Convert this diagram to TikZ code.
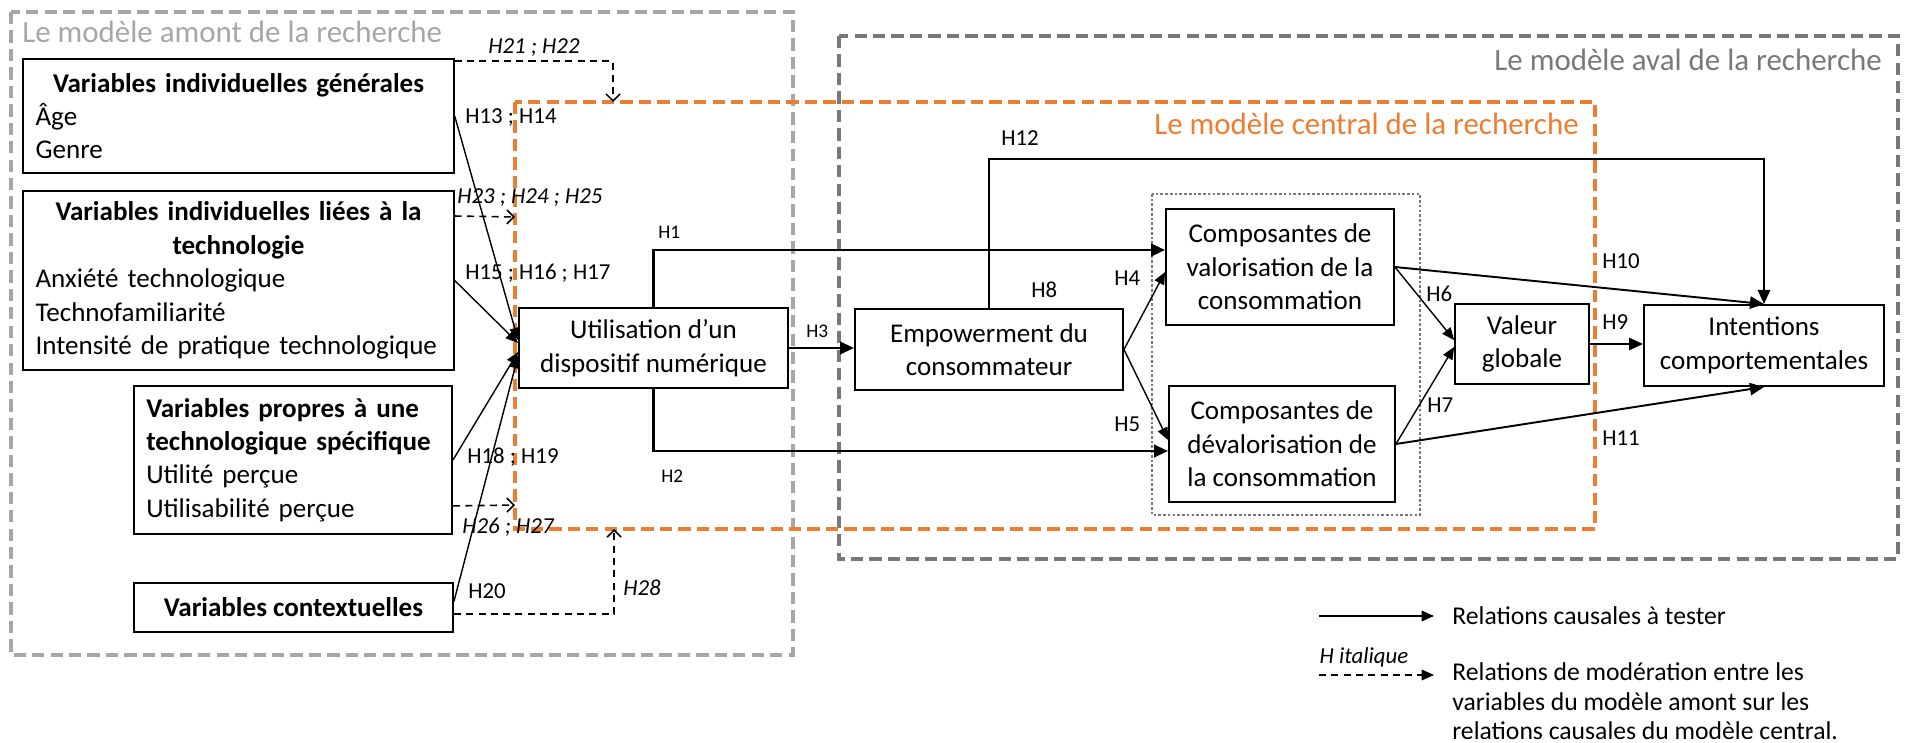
\documentclass[tikz,border=0pt]{standalone}
\usepackage{fontspec}
\setmainfont{Carlito}
\usetikzlibrary{arrows.meta,calc}
\definecolor{amontgray}{RGB}{166,166,166}
\definecolor{avalgray}{RGB}{120,120,120}
\definecolor{centralorange}{RGB}{237,125,49}
\newcommand{\boxfont}{\fontsize{15.4pt}{19pt}\selectfont}
\newcommand{\hypfont}{\fontsize{13pt}{15pt}\selectfont}
\newcommand{\smallhypfont}{\fontsize{11pt}{13pt}\selectfont}
\newcommand{\framefont}{\fontsize{17.6pt}{20pt}\selectfont}
\newcommand{\legendfont}{\fontsize{14.6pt}{17pt}\selectfont}
\tikzset{
	varbox/.style={draw, line width=1.1pt, font=\boxfont, inner xsep=7pt, inner ysep=2pt},
	hyp/.style={font=\hypfont, inner sep=0pt, anchor=west},
	hypit/.style={font=\hypfont\itshape, inner sep=0pt, anchor=west},
	smallhyp/.style={font=\smallhypfont, inner sep=0pt, anchor=west},
	causal/.style={line width=0.8pt, -{Triangle[length=7pt,width=6pt]}},
	midcausal/.style={line width=1.1pt, -{Triangle[length=8pt,width=7pt]}},
	thickcausal/.style={line width=1.7pt, -{Triangle[length=8pt,width=7pt]}},
	moder/.style={line width=0.9pt, dash pattern=on 4pt off 3pt, -{Straight Barb[length=4pt,width=8pt]}},
	framebox/.style={line width=2pt, dash pattern=on 7pt off 3.5pt},
	legendtext/.style={font=\legendfont, inner sep=0pt},
}
\begin{document}
\begin{tikzpicture}[x=0.02cm, y=-0.02cm]
	\useasboundingbox (0,0) rectangle (1905,743);
	\coordinate (amontNW) at (11,12);
	\coordinate (amontSE) at (793,655);
	\coordinate (avalNW) at (839,36);
	\coordinate (avalSE) at (1898,559);
	\coordinate (centralNW) at (515,102);
	\coordinate (centralSE) at (1595,529);
	\coordinate (clusterNW) at (1152,194);
	\coordinate (clusterSE) at (1420,515);
	\draw[framebox, amontgray] (amontNW) rectangle (amontSE);
	\draw[framebox, avalgray] (avalNW) rectangle (avalSE);
	\draw[framebox, centralorange, line width=2.3pt] (centralNW) rectangle (centralSE);
	\draw[avalgray, line width=0.6pt, dash pattern=on 1.5pt off 1.2pt] (clusterNW) rectangle (clusterSE);
	\node[font=\framefont, text=amontgray, anchor=west, inner sep=0pt] (amonttitle) at (22,32) {Le modèle amont de la recherche};
	\node[font=\framefont, text=avalgray, anchor=east, inner sep=0pt] (avaltitle) at (1882,60) {Le modèle aval de la recherche};
	\node[font=\framefont, text=centralorange, anchor=east, inner sep=0pt] (centraltitle) at (1579,124) {Le modèle central de la recherche};

	\node[varbox, text width=231pt, minimum height=64.9pt, align=left] (indgen) at (238.5,116)
		{{\centering\bfseries Variables individuelles générales\par}Âge\\Genre};
	\node[varbox, text width=231pt, minimum height=101.9pt, align=left] (indtech) at (238.5,280.5)
		{{\centering\bfseries Variables individuelles liées à la\\technologie\par}Anxiété technologique\\Technofamiliarité\\Intensité de pratique technologique};
	\node[varbox, text width=167pt, minimum height=84.2pt, align=left] (techspec) at (293,460)
		{\textbf{Variables propres à une\\technologique spécifique}\\Utilité perçue\\Utilisabilité perçue};
	\node[varbox, minimum width=181.5pt, minimum height=27.9pt, font=\boxfont\bfseries] (context) at (293.5,607.5) {Variables contextuelles};
	\node[varbox, minimum width=153.1pt, minimum height=45.5pt, align=center] (util) at (653.5,348) {Utilisation d’un\\dispositif numérique};
	\node[varbox, minimum width=152.5pt, minimum height=46.1pt, align=center] (emp) at (989,349.5) {Empowerment du\\consommateur};
	\node[varbox, minimum width=129.7pt, minimum height=66pt, align=center] (val) at (1280,267) {Composantes de\\valorisation de la\\consommation};
	\node[varbox, minimum width=128.6pt, minimum height=66pt, align=center] (deval) at (1282,444) {Composantes de\\dévalorisation de\\la consommation};
	\node[varbox, minimum width=76.2pt, minimum height=45.5pt, align=center] (vg) at (1522,344) {Valeur\\globale};
	\node[varbox, minimum width=136.6pt, minimum height=46.1pt, align=center] (int) at (1764,345.5) {Intentions\\comportementales};

	\draw[causal] (indgen.east) -- ($(util.west)+(0,-8)$);
	\draw[causal] (indtech.east) -- ($(util.west)+(0,-5)$);
	\draw[causal] (techspec.east) -- ($(util.west)+(0,4)$);
	\draw[causal] ($(context.east)+(0,-6)$) -- ($(util.west)+(0,8)$);
	\node[hyp] (lH13) at (465,118) {H13 ; H14};
	\node[hyp] (lH15) at (465,273) {H15 ; H16 ; H17};
	\node[hyp] (lH18) at (467,457) {H18 ; H19};
	\node[hyp] (lH20) at (468,591) {H20};

	\coordinate (m21) at (613,102);
	\coordinate (m23) at (515,217);
	\coordinate (m26) at (515,505);
	\coordinate (m28) at (614,529);
	\draw[moder] ($(indgen.north east)+(0,3)$) -| (m21);
	\draw[moder] ($(indtech.north east)+(0,26)$) -- (m23);
	\draw[moder] ($(techspec.south east)+(0,-29)$) -- (m26);
	\draw[moder] ($(context.east)+(0,6.5)$) -| (m28);
	\node[hypit] (lH21) at (488,48) {H21 ; H22};
	\node[hypit] (lH23) at (457,198) {H23 ; H24 ; H25};
	\node[hypit] (lH26) at (462,527) {H26 ; H27};
	\node[hypit] (lH28) at (623,588) {H28};

	\draw[thickcausal] (util.north) |- ($(val.west)+(0,-17)$);
	\draw[thickcausal] (util.south) |- ($(deval.west)+(0,7)$);
	\draw[thickcausal] (util.east) -- (util.east -| emp.west);
	\draw[causal] (emp.east) -- ($(val.west)+(0,5)$);
	\draw[causal] (emp.east) -- ($(deval.west)+(0,-4)$);
	\draw[causal] (val.east) -- ($(vg.west)+(0,-4)$);
	\draw[causal] (deval.east) -- ($(vg.west)+(0,3)$);
	\draw[midcausal] (emp.north) |- ($(int.north)+(0,-145)$) -- (int.north);
	\draw[midcausal] (vg.east) -- (vg.east -| int.west);
	\draw[midcausal] (val.east) -- (int.north);
	\draw[midcausal] (deval.east) -- (int.south);
	\foreach \lab/\x/\y in {H1/658/232, H2/661/476, H3/806/331}
		\node[smallhyp] (l\lab) at (\x,\y) {\lab};
	\foreach \lab/\x/\y in {H4/1114/278, H5/1114/424, H6/1426/294, H7/1427/405, H8/1031/290, H9/1602/322, H10/1602/261, H11/1602/438, H12/1001/138}
		\node[hyp] (l\lab) at (\x,\y) {\lab};

	\coordinate (legcausalA) at (1319,616);
	\coordinate (legcausalB) at (1434,616);
	\coordinate (legmodA) at (1319,675);
	\coordinate (legmodB) at (1434,675);
	\draw[causal] (legcausalA) -- (legcausalB);
	\draw[line width=0.9pt, dash pattern=on 4pt off 3pt, -{Triangle[length=7pt,width=6pt]}] (legmodA) -- (legmodB);
	\node[legendtext, anchor=west] (legcausal) at (1452,616) {Relations causales à tester};
	\node[hypit, anchor=center] (legitalic) at (1364,657) {H italique};
	\node[legendtext, anchor=north west, align=left] (legmod) at (1452,662)
		{Relations de modération entre les\\variables du modèle amont sur les\\relations causales du modèle central.};
\end{tikzpicture}
\end{document}
